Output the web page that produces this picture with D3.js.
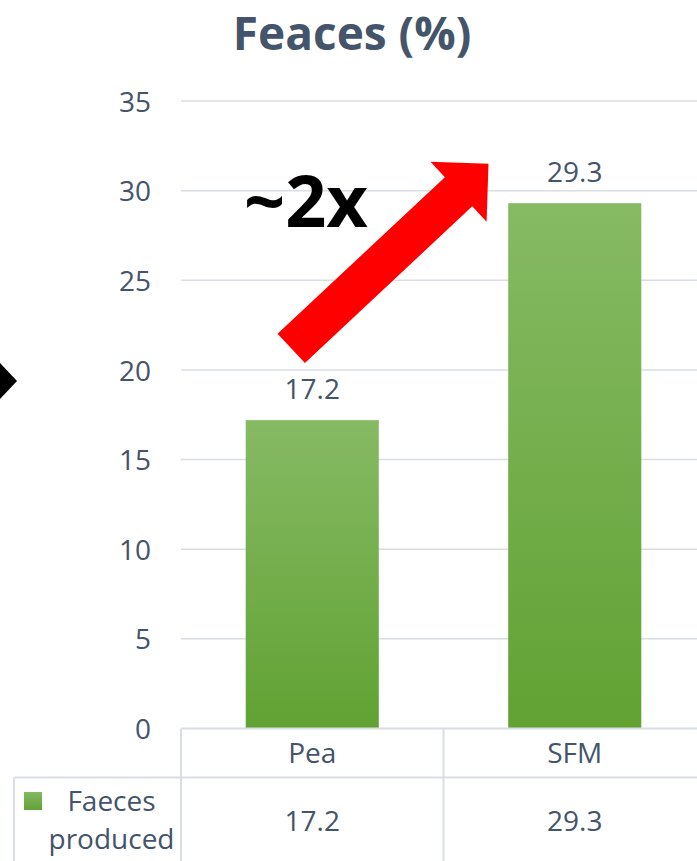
<!DOCTYPE html>
<html>
<head>
<meta charset="utf-8">
<script src="https://cdn.jsdelivr.net/npm/d3@7/dist/d3.min.js"></script>
<style>
  html, body { margin: 0; padding: 0; background: #fff; overflow: hidden; }
  svg { display: block; }
  text { font-family: "Open Sans", sans-serif; fill: #44546A; }
</style>
</head>
<body>
<svg id="chart" width="697" height="861"></svg>
<script>
const chartTitle = "Feaces (%)";
const categories = ["Pea", "SFM"];
const values = [17.2, 29.3];
const yTicks = [0, 5, 10, 15, 20, 25, 30, 35];
const seriesLines = ["Faeces", "produced"];
const annotation = "~2x";

const W = 697, H = 861;
const svg = d3.select("#chart");
const textColor = "#44546A";
const gridColor = "#D9DEE4";

const plotLeft = 181, plotRight = 706;
const y = d3.scaleLinear().domain([0, 35]).range([728.5, 101]);
const x = d3.scaleBand().domain(categories).range([plotLeft, plotRight]).padding(0);
const barFrac = 0.507;

// gradient
const defs = svg.append("defs");
const grad = defs.append("linearGradient").attr("id", "barGrad")
  .attr("x1", 0).attr("y1", 0).attr("x2", 0).attr("y2", 1);
grad.append("stop").attr("offset", "0%").attr("stop-color", "#86BA64");
grad.append("stop").attr("offset", "100%").attr("stop-color", "#61A233");
const lgrad = defs.append("linearGradient").attr("id", "keyGrad")
  .attr("x1", 0).attr("y1", 0).attr("x2", 0).attr("y2", 1);
lgrad.append("stop").attr("offset", "0%").attr("stop-color", "#84B862");
lgrad.append("stop").attr("offset", "100%").attr("stop-color", "#63A337");

// title
svg.append("text").attr("x", 352).attr("y", 50)
  .attr("text-anchor", "middle").attr("font-size", 46).attr("font-weight", 700)
  .style("fill", textColor).text(chartTitle);

// gridlines
svg.append("g").selectAll("line").data(yTicks.filter(d => d > 0)).join("line")
  .attr("x1", plotLeft).attr("x2", W)
  .attr("y1", d => y(d)).attr("y2", d => y(d))
  .attr("stroke", gridColor).attr("stroke-width", 1.5);

// y axis labels
const yAxis = d3.axisLeft(y).tickValues(yTicks).tickSize(0).tickPadding(0);
const ya = svg.append("g").attr("transform", "translate(151,0)").call(yAxis);
ya.select(".domain").remove();
ya.selectAll("text").attr("font-size", 28).style("fill", textColor)
  .attr("font-family", "Open Sans, sans-serif").attr("dy", "0.36em");

// bars
const bw = x.bandwidth() * barFrac;
svg.append("g").selectAll("rect").data(values).join("rect")
  .attr("x", (d, i) => x(categories[i]) + x.bandwidth() / 2 - bw / 2)
  .attr("width", bw)
  .attr("y", d => y(d))
  .attr("height", d => y(0) - y(d))
  .attr("fill", "url(#barGrad)");

// data labels
svg.append("g").selectAll("text").data(values).join("text")
  .attr("x", (d, i) => x(categories[i]) + x.bandwidth() / 2)
  .attr("y", d => y(d) - 21)
  .attr("text-anchor", "middle").attr("font-size", 28)
  .style("fill", textColor).text(d => d.toFixed(1));

// data table
const tbl = svg.append("g").attr("stroke", gridColor).attr("stroke-width", 2);
const rowTop = y(0), rowMid = 777.5, tableLeft = 14;
tbl.append("line").attr("x1", plotLeft).attr("x2", W).attr("y1", rowTop).attr("y2", rowTop);
tbl.append("line").attr("x1", tableLeft).attr("x2", W).attr("y1", rowMid).attr("y2", rowMid);
tbl.append("line").attr("x1", tableLeft).attr("x2", tableLeft).attr("y1", rowMid).attr("y2", H);
tbl.selectAll("line.v").data(categories.concat(["end"])).join("line").attr("class", "v")
  .attr("x1", (d, i) => plotLeft + i * x.step()).attr("x2", (d, i) => plotLeft + i * x.step())
  .attr("y1", rowTop).attr("y2", H);

svg.append("g").selectAll("text").data(categories).join("text")
  .attr("x", d => x(d) + x.bandwidth() / 2).attr("y", 763)
  .attr("text-anchor", "middle").attr("font-size", 28).style("fill", textColor).text(d => d);
svg.append("g").selectAll("text").data(values).join("text")
  .attr("x", (d, i) => x(categories[i]) + x.bandwidth() / 2).attr("y", 831)
  .attr("text-anchor", "middle").attr("font-size", 28).style("fill", textColor).text(d => d.toFixed(1));

// legend key
svg.append("rect").attr("x", 24).attr("y", 792).attr("width", 18).attr("height", 18)
  .attr("fill", "url(#keyGrad)");
svg.append("g").selectAll("text").data(seriesLines).join("text")
  .attr("x", 111.5).attr("y", (d, i) => 811 + i * 38)
  .attr("text-anchor", "middle").attr("font-size", 28).style("fill", textColor).text(d => d);

// annotation "~2x"
svg.append("text").attr("x", 244).attr("y", 227)
  .attr("font-size", 72).attr("font-weight", 700).style("fill", "#000").text(annotation);

// red arrow (anchored to scales)
const tail = [x("Pea") + x.bandwidth() / 2 - 21, y(21.2)];
const tip = [x("SFM") + 45, y(31.5)];
const dx = tip[0] - tail[0], dy = tip[1] - tail[1];
const len = Math.hypot(dx, dy);
const u = [dx / len, dy / len];
const n = [-u[1], u[0]];
const sw = 20, hw = 41, hl = 41;
const base = [tip[0] - u[0] * hl, tip[1] - u[1] * hl];
const pts = [
  [tail[0] + n[0] * sw, tail[1] + n[1] * sw],
  [base[0] + n[0] * sw, base[1] + n[1] * sw],
  [base[0] + n[0] * hw, base[1] + n[1] * hw],
  tip,
  [base[0] - n[0] * hw, base[1] - n[1] * hw],
  [base[0] - n[0] * sw, base[1] - n[1] * sw],
  [tail[0] - n[0] * sw, tail[1] - n[1] * sw]
];
svg.append("path").attr("d", d3.line()(pts) + "Z").attr("fill", "#FF0000");

// black chevron at left edge
svg.append("path").attr("d", d3.line()([[0, 363], [17, 381], [0, 399]]) + "Z").attr("fill", "#000");
</script>
</body>
</html>
